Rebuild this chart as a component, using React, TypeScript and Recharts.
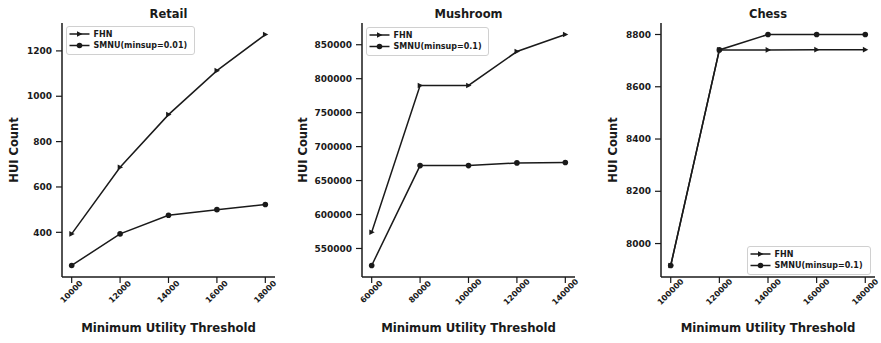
import { LineChart, Line, XAxis, YAxis, Legend } from "recharts";

const FONT = '"DejaVu Sans", sans-serif';
const INK = "#1a1a1a";

// Retail
const retailX = [10000, 12000, 14000, 16000, 18000];
const retailFhn = [393, 687, 919, 1113, 1272];
const retailSmnu = [254, 393, 475, 500, 523];
const retailYTicks = [400, 600, 800, 1000, 1200];

// Mushroom
const mushroomX = [60000, 80000, 100000, 120000, 140000];
const mushroomFhn = [574000, 790000, 790000, 840000, 865000];
const mushroomSmnu = [525000, 672000, 672000, 676000, 676500];
const mushroomYTicks = [550000, 600000, 650000, 700000, 750000, 800000, 850000];

// Chess
const chessX = [100000, 120000, 140000, 160000, 180000];
const chessFhn = [7916, 8741, 8741, 8742, 8742];
const chessSmnu = [7916, 8741, 8800, 8800, 8800];
const chessYTicks = [8000, 8200, 8400, 8600, 8800];

const build = (xs: number[], a: number[], b: number[]) =>
  xs.map((x, i) => ({ x, fhn: a[i], smnu: b[i] }));

const Triangle = (p: any) => {
  const { cx, cy, index } = p;
  if (cx == null || cy == null) return <g key={`t-${index}`} />;
  return (
    <path
      key={`t-${index}`}
      d={`M${cx + 3},${cy} L${cx - 2.4},${cy - 2.8} L${cx - 2.4},${cy + 2.8} Z`}
      fill={INK}
    />
  );
};

const Circle = (p: any) => {
  const { cx, cy, index } = p;
  if (cx == null || cy == null) return <g key={`c-${index}`} />;
  return <circle key={`c-${index}`} cx={cx} cy={cy} r={2.8} fill={INK} />;
};

const XTick = (p: any) => {
  const { x, y, payload } = p;
  const ty = y + 7;
  return (
    <text
      x={x}
      y={ty}
      transform={`rotate(-45, ${x}, ${ty})`}
      textAnchor="middle"
      dominantBaseline="central"
      fontSize={8}
      fontWeight="bold"
      fontFamily={FONT}
      fill={INK}
    >
      {payload.value}
    </text>
  );
};

const LegendBox = (w: number, smnuLabel: string) => (p: any) => {
  const h = 29;
  return (
    <svg width={w} height={h} style={{ display: "block" }}>
      <rect x={0.5} y={0.5} width={w - 1} height={h - 1} rx={2.5} fill="#fff" fillOpacity={0.85} stroke="#d0d0d0" />
      {["FHN", smnuLabel].map((name, i) => {
        const cy = 8 + i * 11.5;
        return (
          <g key={name}>
            <line x1={3.5} x2={23.5} y1={cy} y2={cy} stroke={INK} strokeWidth={1.5} />
            {i === 0 ? (
              <path d={`M${16.5},${cy} L${11},${cy - 2.8} L${11},${cy + 2.8} Z`} fill={INK} />
            ) : (
              <circle cx={13.5} cy={cy} r={2.8} fill={INK} />
            )}
            <text x={27.5} y={cy} dominantBaseline="central" fontSize={8} fontWeight="bold" fontFamily={FONT} fill={INK}>
              {name}
            </text>
          </g>
        );
      })}
    </svg>
  );
};

type PanelProps = {
  left: number;
  width: number;
  axisW: number;
  right: number;
  title: string;
  data: { x: number; fhn: number; smnu: number }[];
  xDomain: [number, number];
  xTicks: number[];
  yDomain: [number, number];
  yTicks: number[];
  yLabelX: number;
  smnuLabel: string;
  legendLeft: number;
  legendTop: number;
  legendW: number;
};

function Panel(props: PanelProps) {
  const {
    left, width, axisW, right, title, data, xDomain, xTicks, yDomain, yTicks,
    yLabelX, smnuLabel, legendLeft, legendTop, legendW,
  } = props;
  const plotW = width - axisW - right;
  return (
    <div style={{ position: "absolute", left, top: 0, width, height: 343 }}>
      <div
        style={{
          position: "absolute",
          left: axisW,
          width: plotW,
          top: 6,
          textAlign: "center",
          fontFamily: FONT,
          fontWeight: "bold",
          fontSize: 11.5,
          lineHeight: "16px",
          color: INK,
        }}
      >
        {title}
      </div>
      <LineChart width={width} height={343} data={data} margin={{ top: 23, right, bottom: 0, left: 0 }}>
        <XAxis
          dataKey="x"
          type="number"
          domain={xDomain}
          ticks={xTicks}
          interval={0}
          height={66}
          tickSize={6}
          tickMargin={2}
          tick={<XTick />}
          axisLine={{ stroke: INK, strokeWidth: 1.5 }}
          tickLine={{ stroke: INK, strokeWidth: 1.2 }}
          label={() => (
            <text
              x={axisW + plotW / 2}
              y={328}
              textAnchor="middle"
              dominantBaseline="central"
              fontSize={11.7}
              fontWeight="bold"
              fontFamily={FONT}
              fill={INK}
            >
              Minimum Utility Threshold
            </text>
          )}
        />
        <YAxis
          type="number"
          domain={yDomain}
          ticks={yTicks}
          interval={0}
          width={axisW}
          tickSize={6}
          tickMargin={4}
          allowDataOverflow
          tick={{ fontSize: 9, fontWeight: "bold", fontFamily: FONT, fill: INK }}
          axisLine={{ stroke: INK, strokeWidth: 1.5 }}
          tickLine={{ stroke: INK, strokeWidth: 1.2 }}
          label={() => (
            <text
              x={yLabelX}
              y={150}
              transform={`rotate(-90, ${yLabelX}, 150)`}
              textAnchor="middle"
              dominantBaseline="central"
              fontSize={11.5}
              fontWeight="bold"
              fontFamily={FONT}
              fill={INK}
            >
              HUI Count
            </text>
          )}
        />
        <Legend
          layout="vertical"
          align="center"
          verticalAlign="middle"
          content={LegendBox(legendW, smnuLabel)}
          wrapperStyle={{ left: legendLeft, top: legendTop, width: legendW, height: 29 }}
        />
        <Line
          type="linear"
          dataKey="fhn"
          name="FHN"
          stroke={INK}
          strokeWidth={1.5}
          dot={Triangle}
          activeDot={false}
          isAnimationActive={false}
        />
        <Line
          type="linear"
          dataKey="smnu"
          name={smnuLabel}
          stroke={INK}
          strokeWidth={1.5}
          dot={Circle}
          activeDot={false}
          isAnimationActive={false}
        />
      </LineChart>
    </div>
  );
}

export default function App() {
  return (
    <div style={{ position: "absolute", left: 0, top: 0, width: 881, height: 343, background: "#fff", overflow: "hidden" }}>
      <Panel
        left={0}
        width={293}
        axisW={62}
        right={18}
        title="Retail"
        data={build(retailX, retailFhn, retailSmnu)}
        xDomain={[9600, 18400]}
        xTicks={retailX}
        yDomain={[203, 1323]}
        yTicks={retailYTicks}
        yLabelX={14}
        smnuLabel="SMNU(minsup=0.01)"
        legendLeft={66}
        legendTop={26}
        legendW={129}
      />
      <Panel
        left={293}
        width={294}
        axisW={69}
        right={12}
        title="Mushroom"
        data={build(mushroomX, mushroomFhn, mushroomSmnu)}
        xDomain={[56000, 144000]}
        xTicks={mushroomX}
        yDomain={[508000, 882000]}
        yTicks={mushroomYTicks}
        yLabelX={9.7}
        smnuLabel="SMNU(minsup=0.1)"
        legendLeft={73}
        legendTop={27}
        legendW={123}
      />
      <Panel
        left={587}
        width={294}
        axisW={74}
        right={6}
        title="Chess"
        data={build(chessX, chessFhn, chessSmnu)}
        xDomain={[96000, 184000]}
        xTicks={chessX}
        yDomain={[7872, 8844]}
        yTicks={chessYTicks}
        yLabelX={26}
        smnuLabel="SMNU(minsup=0.1)"
        legendLeft={160}
        legendTop={246}
        legendW={124}
      />
    </div>
  );
}
